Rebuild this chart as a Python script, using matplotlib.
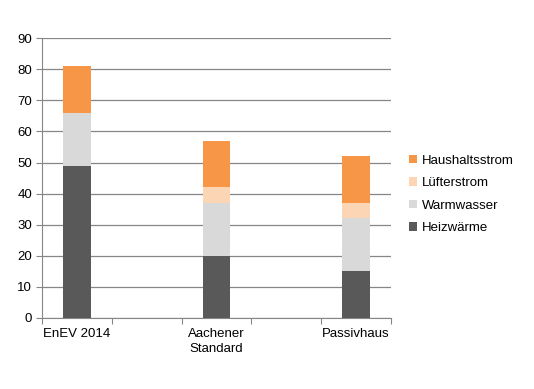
import numpy as np
import matplotlib.pyplot as plt

plt.rcParams['font.family'] = ['Liberation Sans', 'DejaVu Sans']

# categorias (las vacias dejan el hueco entre barras)
categorias = ['EnEV 2014', '', 'Aachener\nStandard', '', 'Passivhaus']
heizwaerme = [49, 0, 20, 0, 15]
warmwasser = [17, 0, 17, 0, 17]
luefterstrom = [0, 0, 5, 0, 5]
haushaltsstrom = [15, 0, 15, 0, 15]

series = [('Heizwärme', heizwaerme, '#595959'),
          ('Warmwasser', warmwasser, '#d9d9d9'),
          ('Lüfterstrom', luefterstrom, '#fcd5b4'),
          ('Haushaltsstrom', haushaltsstrom, '#f79646')]

fig = plt.figure(figsize=(5.34, 3.89), dpi=100)
ax = fig.add_axes([0.0787, 0.183, 0.732 - 0.0787, 0.9015 - 0.183])

x = np.arange(len(categorias))
abajo = np.zeros(len(categorias))
for nombre, vals, color in series:
    vals = np.array(vals, dtype=float)
    ax.bar(x, vals, 0.4, bottom=abajo, color=color, label=nombre, zorder=3)
    abajo += vals

ax.set_xlim(-0.5, len(categorias) - 0.5)
ax.set_ylim(0, 90)
ax.set_yticks(np.arange(0, 91, 10))
ax.set_xticks(np.arange(-0.5, len(categorias), 1))
ax.set_xticklabels([])
ax.set_xticks(x, minor=True)
ax.set_xticklabels(categorias, minor=True, fontsize=9.5, linespacing=1.35)
ax.tick_params(axis='x', which='minor', length=0, pad=7)
ax.tick_params(axis='x', which='major', length=4, color='#868686', direction='out')
ax.tick_params(axis='y', length=4, color='#868686', labelsize=9.5, pad=3)

ax.grid(axis='y', color='#868686', linewidth=0.9, zorder=0)
for s in ['top', 'right']:
    ax.spines[s].set_visible(False)
ax.spines['left'].set_color('#868686')
ax.spines['bottom'].set_color('#868686')

h, l = ax.get_legend_handles_labels()
fig.legend(h[::-1], l[::-1], loc='upper left', bbox_to_anchor=(0.744, 0.633),
           frameon=False, fontsize=9.5, handlelength=0.6, handleheight=0.6,
           handletextpad=0.4, labelspacing=0.8)

fig.savefig('out.png', dpi=100)
